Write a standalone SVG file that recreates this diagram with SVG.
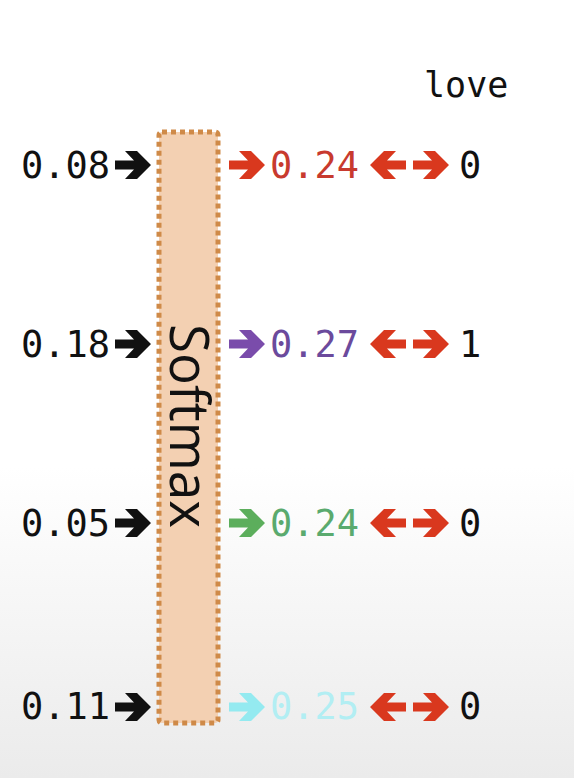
<svg xmlns="http://www.w3.org/2000/svg" width="574" height="778" viewBox="0 0 574 778">
<defs>
<linearGradient id="bg" x1="0" y1="0" x2="0" y2="1">
<stop offset="0" stop-color="#ffffff"/>
<stop offset="0.6" stop-color="#ffffff"/>
<stop offset="1" stop-color="#ebebeb"/>
</linearGradient>
<path id="ar" d="M0,-4.5 H19 L10,-14 H22 L36,0 L22,14 H10 L19,4.5 H0 Z"/>
<style>
.num{font-family:"DejaVu Sans Mono","Liberation Mono",monospace;font-size:37px}
.blk{fill:#111}
.red{fill:#d9381e}
</style>
</defs>
<rect width="574" height="778" fill="url(#bg)"/>
<g id="label-love"><text class="num blk" x="424" y="97" style="font-size:35px">love</text></g>
<g id="softmax">
<rect x="159" y="132" width="59" height="591" rx="3" fill="#f3d0b2" stroke="#cf8a48" stroke-width="5" stroke-dasharray="5 4"/>
<text transform="translate(170,324) rotate(90)" font-family="'Open Sans','Noto Sans',sans-serif" font-size="55" fill="#111" textLength="204" lengthAdjust="spacingAndGlyphs">Softmax</text>
</g>
<g id="inputs">
<text class="num blk" x="21" y="178">0.08</text>
<text class="num blk" x="21" y="357">0.18</text>
<text class="num blk" x="21" y="536">0.05</text>
<text class="num blk" x="21" y="719">0.11</text>
</g>
<g id="outputs">
<text class="num" x="270" y="178" fill="#c83a2e">0.24</text>
<text class="num" x="270" y="357" fill="#6b4a9c">0.27</text>
<text class="num" x="270" y="536" fill="#5aaa6e">0.24</text>
<text class="num" x="270" y="719" fill="#b2eef3">0.25</text>
</g>
<g id="targets">
<text class="num blk" x="459" y="178">0</text>
<text class="num blk" x="459" y="357">1</text>
<text class="num blk" x="459" y="536">0</text>
<text class="num blk" x="459" y="719">0</text>
</g>
<g id="connectors">
<use href="#ar" x="115" y="165" class="blk"/>
<use href="#ar" x="115" y="344" class="blk"/>
<use href="#ar" x="115" y="523" class="blk"/>
<use href="#ar" x="115" y="707" class="blk"/>
<use href="#ar" x="229" y="165" fill="#d9381e"/>
<use href="#ar" x="229" y="344" fill="#7a4cab"/>
<use href="#ar" x="229" y="523" fill="#5cae5c"/>
<use href="#ar" x="229" y="707" fill="#94eaf0"/>
<g class="red">
<use href="#ar" transform="translate(406,165) scale(-1,1)"/>
<use href="#ar" x="413" y="165"/>
<use href="#ar" transform="translate(406,344) scale(-1,1)"/>
<use href="#ar" x="413" y="344"/>
<use href="#ar" transform="translate(406,523) scale(-1,1)"/>
<use href="#ar" x="413" y="523"/>
<use href="#ar" transform="translate(406,707) scale(-1,1)"/>
<use href="#ar" x="413" y="707"/>
</g>
</g>
</svg>
